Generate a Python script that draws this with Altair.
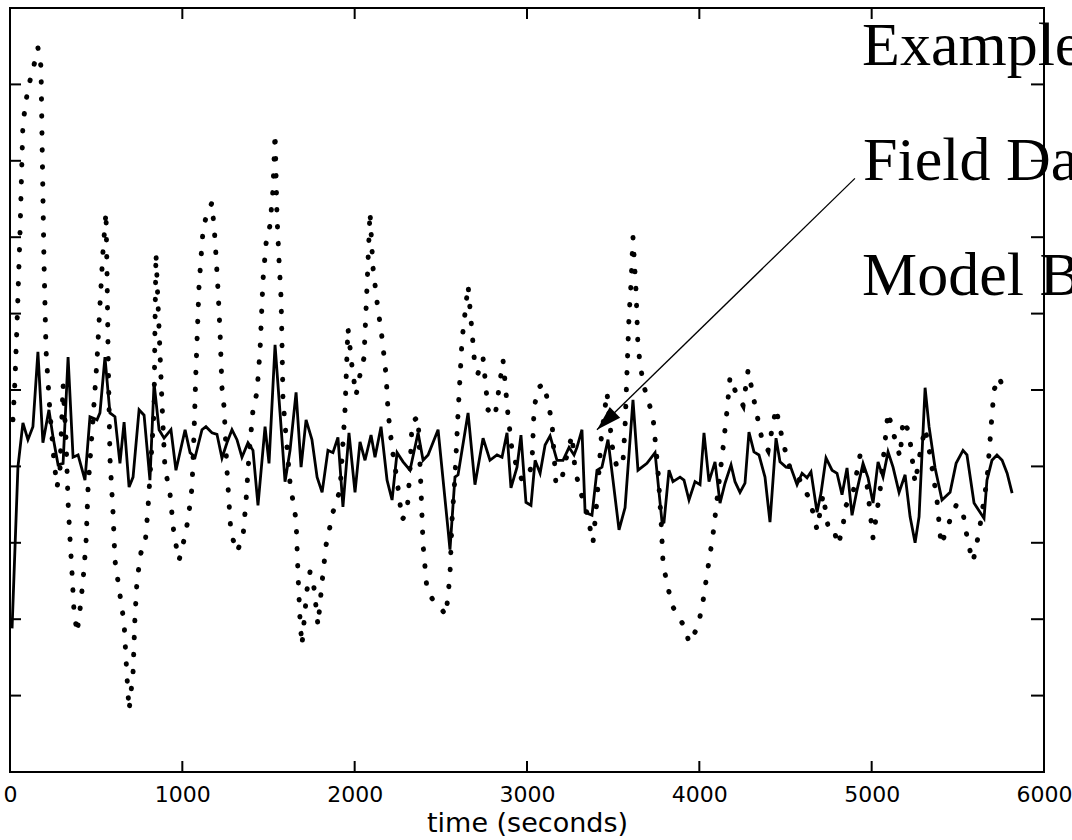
import altair as alt
import pandas as pd

# ---- data (time in seconds, value in arbitrary units 0..10) ----
model_t = [12, 46, 75, 104, 133, 162, 191, 226, 250, 279,
           308, 337, 366, 395, 435, 464, 505, 522, 551, 580,
           609, 638, 662, 691, 714, 749, 778, 812, 836, 865,
           894, 934, 963, 1016, 1045, 1074, 1114, 1137, 1172, 1201,
           1230, 1259, 1288, 1317, 1346, 1381, 1410, 1439, 1480, 1503,
           1538, 1567, 1596, 1625, 1660, 1689, 1718, 1752, 1782, 1811,
           1845, 1874, 1903, 1932, 1967, 2002, 2031, 2060, 2095, 2118,
           2153, 2188, 2217, 2246, 2281, 2321, 2368, 2397, 2426, 2484,
           2542, 2553, 2582, 2600, 2658, 2698, 2745, 2785, 2826, 2855,
           2884, 2907, 2942, 2965, 2994, 3023, 3047, 3076, 3105, 3134,
           3174, 3209, 3244, 3273, 3290, 3319, 3337, 3377, 3406, 3435,
           3470, 3499, 3534, 3569, 3615, 3644, 3696, 3743, 3784, 3795,
           3824, 3847, 3888, 3911, 3940, 3975, 4004, 4027, 4056, 4091,
           4120, 4149, 4184, 4207, 4236, 4265, 4288, 4317, 4346, 4381,
           4410, 4445, 4468, 4503, 4532, 4567, 4596, 4625, 4648, 4683,
           4706, 4735, 4770, 4799, 4828, 4857, 4886, 4915, 4950, 4979,
           5008, 5037, 5066, 5095, 5124, 5159, 5194, 5223, 5252, 5275,
           5310, 5333, 5368, 5408, 5455, 5490, 5530, 5553, 5594, 5652,
           5669, 5698, 5727, 5757, 5786, 5815]
model_v = [1.88, 3.99, 4.57, 4.35, 4.52, 5.50, 4.31, 4.74, 4.38, 4.02,
           4.04, 5.43, 4.12, 4.15, 3.82, 4.65, 4.61, 4.70, 5.43, 4.70,
           4.65, 4.04, 4.58, 3.73, 3.86, 4.74, 4.67, 3.82, 5.09, 4.48,
           4.37, 4.48, 3.95, 4.48, 4.18, 4.12, 4.48, 4.52, 4.44, 4.42,
           4.11, 4.31, 4.48, 4.35, 4.12, 4.31, 4.21, 3.49, 4.52, 4.04,
           5.59, 4.70, 3.80, 4.21, 4.97, 3.99, 4.61, 4.35, 3.86, 3.66,
           4.21, 4.18, 4.38, 3.47, 4.44, 3.66, 4.32, 4.08, 4.41, 4.12,
           4.52, 3.82, 3.56, 4.18, 4.06, 3.95, 4.44, 4.08, 4.15, 4.48,
           3.17, 2.91, 3.86, 3.89, 4.70, 3.76, 4.37, 4.08, 4.15, 4.12,
           4.44, 3.72, 3.99, 4.41, 3.53, 3.49, 4.08, 3.91, 4.28, 4.40,
           4.08, 4.08, 4.25, 4.15, 4.25, 4.48, 3.40, 3.36, 3.95, 3.99,
           4.35, 3.82, 3.17, 3.46, 4.87, 3.95, 4.04, 4.18, 3.26, 3.27,
           3.95, 3.80, 3.86, 3.82, 3.56, 3.80, 3.76, 4.44, 3.80, 4.06,
           3.52, 3.78, 4.02, 3.80, 3.66, 3.78, 4.45, 4.19, 4.15, 3.86,
           3.27, 4.37, 4.06, 3.99, 3.98, 3.76, 3.91, 3.85, 3.93, 3.40,
           3.65, 4.11, 3.95, 3.91, 3.63, 3.98, 3.36, 3.69, 4.04, 3.85,
           3.52, 4.06, 3.86, 4.19, 3.99, 3.66, 3.89, 3.34, 3.00, 3.34,
           5.03, 4.52, 3.98, 3.56, 3.66, 4.04, 4.21, 4.15, 3.52, 3.32,
           3.82, 4.08, 4.15, 4.08, 3.91, 3.65]

field_t = [17, 29, 41, 58, 75, 104, 133, 162, 180, 186,
           197, 209, 232, 255, 273, 290, 308, 325, 337, 348,
           360, 371, 389, 406, 424, 441, 453, 476, 505, 522,
           540, 557, 563, 569, 580, 598, 609, 638, 662, 679,
           691, 714, 725, 737, 760, 783, 801, 818, 836, 841,
           847, 865, 882, 899, 928, 952, 981, 1010, 1033, 1056,
           1068, 1079, 1097, 1120, 1143, 1172, 1190, 1207, 1219, 1230,
           1242, 1259, 1282, 1317, 1352, 1370, 1387, 1410, 1433, 1451,
           1468, 1486, 1509, 1526, 1538, 1549, 1561, 1573, 1578, 1584,
           1625, 1660, 1671, 1683, 1694, 1723, 1741, 1764, 1787, 1811,
           1834, 1874, 1915, 1944, 1961, 1985, 2008, 2031, 2054, 2072,
           2089, 2106, 2130, 2159, 2182, 2194, 2217, 2246, 2275, 2304,
           2321, 2333, 2368, 2385, 2397, 2420, 2455, 2495, 2530, 2553,
           2565, 2582, 2600, 2623, 2658, 2681, 2698, 2716, 2745, 2774,
           2814, 2861, 2890, 2913, 2942, 2971, 3006, 3029, 3041, 3064,
           3099, 3122, 3145, 3168, 3203, 3232, 3261, 3279, 3308, 3348,
           3383, 3406, 3430, 3464, 3493, 3522, 3557, 3569, 3580, 3592,
           3604, 3615, 3633, 3644, 3673, 3731, 3760, 3778, 3789, 3813,
           3847, 3888, 3917, 3940, 3992, 4021, 4050, 4079, 4109, 4138,
           4161, 4178, 4213, 4254, 4283, 4323, 4364, 4399, 4445, 4486,
           4526, 4584, 4642, 4683, 4718, 4747, 4776, 4805, 4834, 4845,
           4892, 4933, 4973, 5008, 5049, 5095, 5136, 5165, 5182, 5217,
           5252, 5286, 5310, 5339, 5379, 5403, 5455, 5490, 5524, 5559,
           5588, 5623, 5669, 5693, 5710, 5739, 5774]
field_v = [4.61, 5.13, 5.88, 7.05, 8.49, 8.95, 9.19, 9.48, 9.23, 8.27,
           6.70, 5.52, 4.70, 4.08, 3.73, 3.95, 5.07, 4.35, 3.53, 3.06,
           2.60, 2.12, 1.82, 2.12, 2.51, 3.00, 3.72, 4.44, 5.39, 6.11,
           6.83, 7.33, 6.53, 5.52, 4.11, 3.39, 2.77, 2.32, 1.95, 1.24,
           0.81, 1.30, 2.02, 2.51, 2.87, 2.95, 3.46, 4.08, 4.71, 5.79,
           6.79, 5.79, 4.83, 3.98, 3.65, 3.10, 2.77, 3.04, 3.30, 3.72,
           4.44, 5.26, 6.37, 7.09, 7.32, 7.45, 6.96, 6.31, 5.75, 5.03,
           4.78, 3.95, 3.13, 2.88, 3.08, 3.56, 4.15, 4.74, 4.97, 5.52,
           6.44, 6.92, 7.16, 7.62, 8.36, 7.29, 6.70, 6.20, 5.65, 4.87,
           3.78, 3.30, 2.60, 1.99, 1.66, 2.38, 2.62, 2.41, 1.92, 2.49,
           2.97, 3.40, 3.69, 4.74, 5.81, 5.30, 4.93, 5.20, 5.42, 6.37,
           7.33, 6.61, 6.15, 5.68, 5.20, 4.71, 4.24, 3.82, 3.30, 3.40,
           3.95, 4.58, 4.65, 3.69, 2.97, 2.38, 2.25, 2.16, 2.05, 2.58,
           3.30, 3.86, 4.70, 5.65, 6.37, 5.76, 5.30, 5.22, 5.42, 4.74,
           4.65, 5.39, 4.67, 4.21, 3.99, 3.82, 3.85, 4.04, 4.76, 5.03,
           5.08, 4.83, 4.58, 3.76, 3.85, 4.15, 4.41, 3.95, 3.69, 3.39,
           3.00, 3.56, 4.35, 4.97, 4.28, 3.98, 4.06, 4.52, 5.22, 5.96,
           6.41, 7.00, 6.28, 5.56, 5.09, 4.65, 3.95, 3.30, 2.75, 2.45,
           2.16, 1.99, 1.90, 1.69, 1.90, 2.23, 2.67, 3.10, 3.69, 4.25,
           4.74, 5.17, 4.96, 4.80, 5.26, 4.80, 4.35, 4.21, 4.76, 4.31,
           3.98, 3.82, 3.56, 3.17, 3.63, 3.21, 3.21, 2.97, 3.21, 3.46,
           3.66, 4.15, 3.76, 3.06, 3.69, 4.71, 4.35, 4.12, 4.61, 4.45,
           3.78, 4.24, 4.50, 4.15, 3.56, 2.97, 3.30, 3.49, 3.47, 3.00,
           2.75, 3.14, 3.82, 4.52, 5.00, 5.17, 4.96]

x_tick_values = [0, 1000, 2000, 3000, 4000, 5000, 6000]
x_inner_ticks = [1000, 2000, 3000, 4000, 5000]
y_inner_ticks = [1, 2, 3, 4, 5, 6, 7, 8, 9]

note_text = ["Example", "Field Da", "Model B"]
note_t = [4944, 4950, 4944]
note_v = [9.25, 7.75, 6.24]

arrow_start_t = [4903]
arrow_start_v = [7.77]
arrow_tip_t = [3406]
arrow_tip_v = [4.48]

# ---- tables ----
model_df = pd.DataFrame({"t": model_t, "v": model_v})
field_df = pd.DataFrame({"t": field_t, "v": field_v})
xt_df = pd.DataFrame({"t": x_inner_ticks})
yt_df = pd.DataFrame({"v": y_inner_ticks})
note_df = pd.DataFrame({"t": note_t, "v": note_v, "label": note_text})
arrow_df = pd.DataFrame({"t": arrow_tip_t, "v": arrow_tip_v,
                         "t0": arrow_start_t, "v0": arrow_start_v})

W, H = 1034, 764
xs = alt.Scale(domain=[0, 6000], nice=False, zero=False)
ys = alt.Scale(domain=[0, 10], nice=False, zero=False)

x_axis = alt.Axis(
    values=x_tick_values, format="d", labelFont="DejaVu Sans", labelFontSize=22,
    labelColor="black", labelPadding=12, labelFlush=False, labelOverlap=False,
    ticks=False, tickSize=0, domain=False, grid=False,
    title="time (seconds)", titleFont="DejaVu Sans", titleFontSize=27,
    titleFontWeight="normal", titleColor="black", titleY=59,
    titleBaseline="alphabetic",
)

field_line = alt.Chart(field_df).mark_line(
    color="black", strokeWidth=5, strokeDash=[0.5, 16.5], strokeCap="round"
).encode(
    x=alt.X("t:Q", scale=xs, axis=x_axis),
    y=alt.Y("v:Q", scale=ys, axis=None),
)

model_line = alt.Chart(model_df).mark_line(
    color="black", strokeWidth=2.8, strokeJoin="miter"
).encode(
    x=alt.X("t:Q", scale=xs),
    y=alt.Y("v:Q", scale=ys),
)

tick_style = dict(color="black", strokeWidth=2)
bottom_ticks = alt.Chart(xt_df).mark_rule(**tick_style).encode(
    x=alt.X("t:Q", scale=xs), y=alt.value(H), y2=alt.value(H - 11))
top_ticks = alt.Chart(xt_df).mark_rule(**tick_style).encode(
    x=alt.X("t:Q", scale=xs), y=alt.value(0), y2=alt.value(11))
left_ticks = alt.Chart(yt_df).mark_rule(**tick_style).encode(
    y=alt.Y("v:Q", scale=ys), x=alt.value(0), x2=alt.value(11))
right_ticks = alt.Chart(yt_df).mark_rule(**tick_style).encode(
    y=alt.Y("v:Q", scale=ys), x=alt.value(W), x2=alt.value(W - 13))

notes = alt.Chart(note_df).mark_text(
    font="Liberation Serif", fontSize=62, align="left", baseline="alphabetic",
    color="black"
).encode(
    x=alt.X("t:Q", scale=xs),
    y=alt.Y("v:Q", scale=ys),
    text="label:N",
)

arrow_line = alt.Chart(arrow_df).mark_rule(color="black", strokeWidth=1.3).encode(
    x=alt.X("t0:Q", scale=xs), y=alt.Y("v0:Q", scale=ys),
    x2="t:Q", y2="v:Q",
)
arrow_head = alt.Chart(arrow_df).mark_point(
    shape="M0,0L0.6,2L-0.6,2Z", filled=True, size=625, angle=226,
    color="black", opacity=1, strokeWidth=0
).encode(
    x=alt.X("t:Q", scale=xs), y=alt.Y("v:Q", scale=ys),
)

chart = alt.layer(
    field_line, model_line, bottom_ticks, top_ticks, left_ticks, right_ticks,
    arrow_line, arrow_head, notes,
).properties(
    width=W, height=H,
    padding={"left": 10, "top": 8, "right": 28, "bottom": 68},
    autosize=alt.AutoSizeParams(type="none"),
    background="white",
).configure_view(
    stroke="black", strokeWidth=2
)

chart.save("out.html", embed_options={"renderer": "svg", "actions": False})
